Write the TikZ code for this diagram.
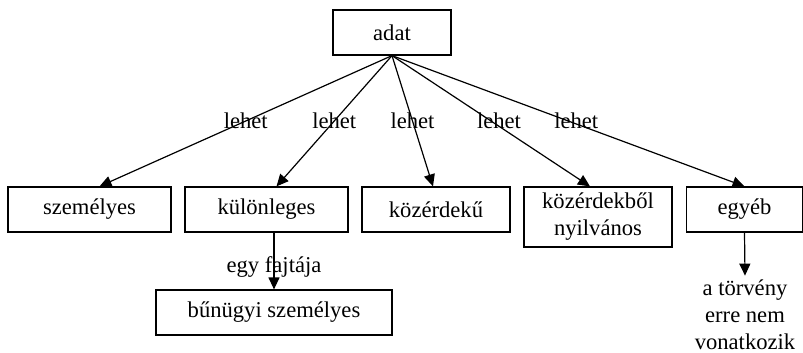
\documentclass[tikz,border=0pt]{standalone}
\usepackage{fontspec}
\setmainfont{Liberation Serif}
\usetikzlibrary{arrows.meta}

\begin{document}
\begin{tikzpicture}[x=0.5pt, y=-0.5pt,
		box/.style={draw, line width=0.6pt, minimum height=22.5pt, inner sep=2pt, align=center, font=\fontsize{11.3}{13.5}\selectfont},
		txt/.style={font=\fontsize{11.3}{13.5}\selectfont, align=center, inner sep=1pt},
		arr/.style={-{Triangle[length=6pt,width=5.5pt]}, line width=0.6pt}]
		\useasboundingbox (0,0) rectangle (803,353);

		\node[box, minimum width=59pt] (adat) at (392,32.5) {adat};

		\node[box, minimum width=81.5pt] (szem) at (89.5,209.5) {személyes};
		\node[box, minimum width=81.5pt] (kulon) at (266.5,209.5) {különleges};
		\node[box, minimum width=74pt] (kozerd) at (436,209.5) {közérdekű};
		\node[box, minimum width=74pt, minimum height=30pt] (nyilv) at (598,217) {közérdekből\\nyilvános};
		\node[box, minimum width=58pt] (egyeb) at (744.5,209.5) {egyéb};

		\node[box, minimum width=118pt] (bun) at (274,312.5) {bűnügyi személyes};
		\node[txt, inner sep=2pt] (torv) at (745,315) {a törvény\\erre nem\\vonatkozik};

		\draw[arr] (adat.south) -- ([xshift=5pt]szem.north) node[txt, midway] {lehet};
		\draw[arr] (adat.south) -- ([xshift=5pt]kulon.north) node[txt, midway] {lehet};
		\draw[arr] (adat.south) -- ([xshift=-1.5pt]kozerd.north) node[txt, midway] {lehet};
		\draw[arr] (adat.south) -- ([xshift=-4pt]nyilv.north) node[txt, midway, xshift=4pt] {lehet};
		\draw[arr] (adat.south) -- (egyeb.north) node[txt, midway, xshift=4pt] {lehet};

		\draw[arr] (bun.north |- kulon.south) -- (bun.north) node[txt, pos=0.6] {egy fajtája};
		\draw[arr] (egyeb.south) -- (torv.north);
\end{tikzpicture}
\end{document}
